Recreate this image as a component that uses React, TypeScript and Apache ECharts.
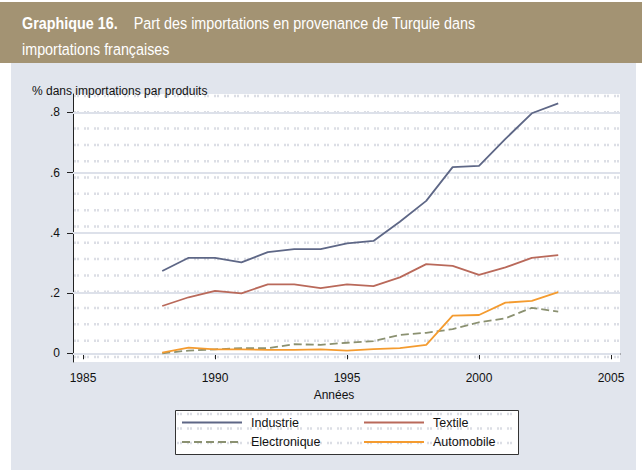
import React, { useEffect, useRef } from "react";
import * as echarts from "echarts";

const years = [1988, 1989, 1990, 1991, 1992, 1993, 1994, 1995, 1996, 1997, 1998, 1999, 2000, 2001, 2002, 2003];
const industrie = [0.273, 0.317, 0.317, 0.302, 0.336, 0.346, 0.346, 0.365, 0.373, 0.437, 0.506, 0.618, 0.622, 0.712, 0.797, 0.83];
const textile = [0.157, 0.186, 0.207, 0.199, 0.229, 0.229, 0.216, 0.229, 0.223, 0.252, 0.296, 0.29, 0.26, 0.285, 0.317, 0.326];
const electronique = [0.0, 0.009, 0.013, 0.017, 0.017, 0.03, 0.028, 0.035, 0.04, 0.061, 0.068, 0.08, 0.103, 0.116, 0.151, 0.138];
const automobile = [0.002, 0.019, 0.013, 0.013, 0.011, 0.011, 0.013, 0.009, 0.014, 0.017, 0.028, 0.125, 0.127, 0.168, 0.174, 0.203];

const xTicks = [1985, 1990, 1995, 2000, 2005];
const yTicks = [0, 0.2, 0.4, 0.6, 0.8];

const FONT = "'Liberation Sans', Arial, sans-serif";

export default function App() {
  const ref = useRef<HTMLDivElement>(null);

  useEffect(() => {
    document.body.style.margin = "0";
    if (!ref.current) return;
    const chart = echarts.init(ref.current, undefined, { renderer: "svg" });

    const pair = (arr: number[]) => years.map((y, i) => [y, arr[i]]);

    const patternStyle = { stroke: "#DCDEE5", lineWidth: 2.5, lineDash: [2, 1, 2, 5] };
    const patternLines: any[] = [];
    for (let k = 0; k <= 16; k++) {
      const y = 96 + k * 16.31;
      patternLines.push({
        type: "line", z: -5, silent: true,
        shape: { x1: 74, y1: y, x2: 619, y2: y },
        style: patternStyle,
      });
    }
    const legendPattern: any[] = [414, 428.5, 443].map((y) => ({
      type: "line", z: -4, silent: true,
      shape: { x1: 177, y1: y, x2: 517, y2: y },
      style: patternStyle,
    }));

    const lineSeries = (name: string, data: number[], color: string, dash?: number[]) => ({
      name,
      type: "line",
      data: pair(data),
      symbol: "none",
      showSymbol: false,
      z: 3,
      lineStyle: { color, width: 1.8, type: dash ? dash : "solid" },
      itemStyle: { color },
    });

    const legendBase = {
      orient: "vertical",
      top: 416, padding: 0,
      itemWidth: 60, itemHeight: 14, itemGap: 6.5,
      itemStyle: { color: "transparent", borderWidth: 0, opacity: 0 },
      textStyle: { fontSize: 12.5, color: "#111", fontFamily: FONT, padding: [0, 0, 0, 4] },
    };

    const titleStyle = { fill: "#FFFFFF", fontSize: 17, fontFamily: FONT, verticalAlign: "middle", align: "left" };

    const option: any = {
      animation: false,
      textStyle: { fontFamily: FONT },
      graphic: [
        { type: "rect", z: -10, silent: true, shape: { x: 0, y: 2, width: 642, height: 61 }, style: { fill: "#A39373" } },
        { type: "rect", z: -10, silent: true, shape: { x: 11, y: 63, width: 625, height: 407 }, style: { fill: "#E1E5ED" } },
        { type: "rect", z: -9, silent: true, shape: { x: 73, y: 94, width: 547, height: 268 }, style: { fill: "#FFFFFF" } },
        ...patternLines,
        { type: "rect", z: -6, silent: true, shape: { x: 175.5, y: 410.5, width: 343, height: 44 }, style: { fill: "#FFFFFF", stroke: "#333333", lineWidth: 1 } },
        ...legendPattern,
        {
          type: "text", x: 22, y: 23, scaleX: 0.845,
          style: {
            ...titleStyle,
            text: "{b|Graphique 16.}    Part des importations en provenance de Turquie dans",
            rich: { b: { fontWeight: "bold", fontSize: 17, fontFamily: FONT, fill: "#FFFFFF" } },
          },
        },
        {
          type: "text", x: 22, y: 49, scaleX: 0.845,
          style: { ...titleStyle, text: "importations françaises" },
        },
        {
          type: "text", x: 32, y: 91,
          style: { text: "% dans importations par produits", fill: "#111111", fontSize: 12, fontFamily: FONT, verticalAlign: "middle", align: "left" },
        },
      ],
      grid: { left: 73, right: 22, top: 94, bottom: 108, containLabel: false },
      xAxis: {
        type: "value",
        min: 1984.62,
        max: 2005.34,
        name: "Années",
        nameLocation: "middle",
        nameGap: 27,
        nameTextStyle: { fontSize: 12, color: "#111", fontFamily: FONT, padding: [0, 25, 0, 0] },
        axisLine: { show: true, lineStyle: { color: "#555555", width: 1.5 } },
        axisTick: { show: true, customValues: xTicks, length: 6, lineStyle: { color: "#222" } },
        axisLabel: { customValues: xTicks, margin: 10, fontSize: 12, color: "#111", fontFamily: FONT, formatter: (v: number) => String(v) },
        splitLine: { show: false },
      },
      yAxis: {
        type: "value",
        min: -0.029,
        max: 0.861,
        axisLine: { show: true, lineStyle: { color: "#222222", width: 1 } },
        axisTick: { show: true, customValues: yTicks, length: 6, lineStyle: { color: "#222" } },
        axisLabel: {
          customValues: yTicks, margin: 13, fontSize: 12, color: "#111", fontFamily: FONT, padding: [0, 0, 4, 0],
          formatter: (v: number) => (v === 0 ? "0" : String(Math.round(v * 10) / 10).replace(/^0\./, ".")),
        },
        splitLine: { show: false },
      },
      legend: [
        { ...legendBase, data: ["Industrie", "Electronique"], left: 181 },
        { ...legendBase, data: ["Textile", "Automobile"], left: 363 },
      ],
      series: [
        {
          name: "grid",
          type: "line",
          data: [],
          z: 1,
          silent: true,
          markLine: {
            z: 1,
            silent: true,
            symbol: "none",
            label: { show: false },
            lineStyle: { color: "#DDE1EA", type: "solid", width: 2 },
            data: yTicks.map((v) => ({ yAxis: v })),
          },
        },
        lineSeries("Industrie", industrie, "#5E6786"),
        lineSeries("Textile", textile, "#B9695A"),
        lineSeries("Electronique", electronique, "#8B9171", [8, 4]),
        lineSeries("Automobile", automobile, "#F49B2F"),
      ],
    };

    chart.setOption(option);
    return () => chart.dispose();
  }, []);

  return <div ref={ref} style={{ width: 642, height: 470 }} />;
}
